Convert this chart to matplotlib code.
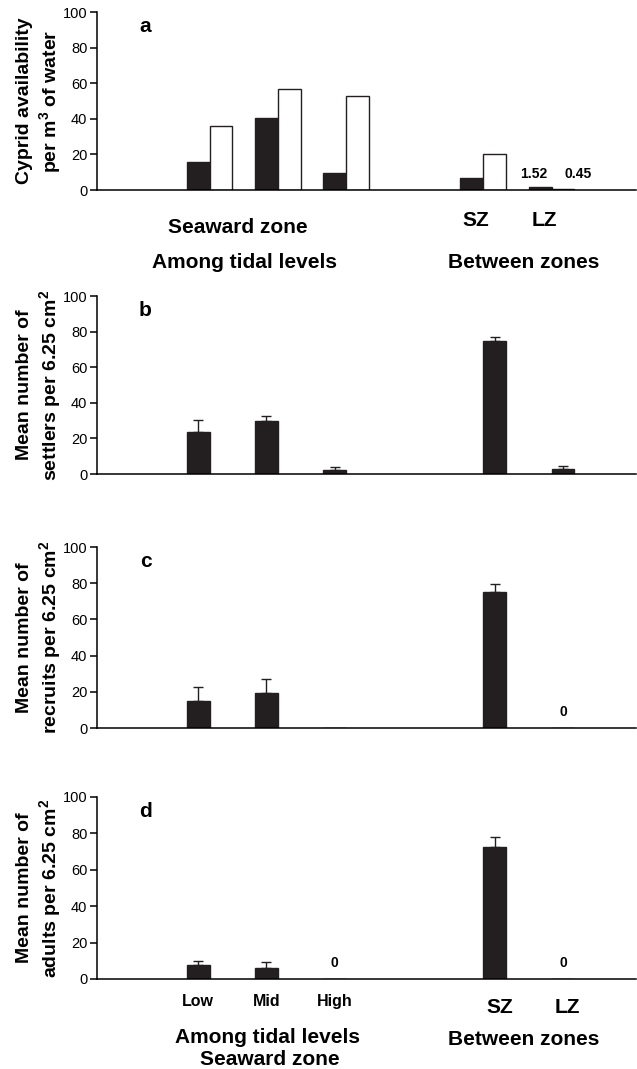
import numpy as np
import matplotlib
matplotlib.use("Agg")
import matplotlib.pyplot as plt
from matplotlib.transforms import blended_transform_factory

plt.rcParams['font.family'] = ['Liberation Sans', 'DejaVu Sans']
plt.rcParams['mathtext.fontset'] = 'custom'
plt.rcParams['mathtext.rm'] = 'Liberation Sans:bold'
plt.rcParams['mathtext.bf'] = 'Liberation Sans:bold'
plt.rcParams['mathtext.default'] = 'bf'

# categories
tidal_levels = ["Low", "Mid", "High"]
zones = ["SZ", "LZ"]

# panel a: cyprid availability (black / white bars)
cyprid_black = [15.5, 40.5, 9.6, 6.5, 1.52]
cyprid_white = [36.0, 57.0, 53.0, 20.0, 0.45]

# panels b-d: means and upper error
settlers = [23.8, 30.0, 2.5, 75.0, 2.8]
settlers_err = [6.4, 2.8, 1.6, 2.2, 1.7]
recruits = [15.1, 19.3, 0.0, 75.0, 0.0]
recruits_err = [7.3, 7.7, 0.0, 4.6, 0.0]
adults = [7.7, 6.0, 0.0, 72.8, 0.0]
adults_err = [2.0, 3.5, 0.0, 5.3, 0.0]
zero_marks = {"c": [False, False, False, False, True],
              "d": [False, False, True, False, True]}

W, H = 637, 1069
fig = plt.figure(figsize=(W / 100, H / 100), dpi=100)
INK = "#231f20"


def ax_at(top, bottom):
    return fig.add_axes([97 / W, 1 - bottom / H, (636 - 97) / W, (bottom - top) / H])


slot = [0, 1, 2, 4, 5]   # Low, Mid, High, (gap), SZ, LZ
bw = 0.335
xlim = (-1.31, 6.57)


def style(ax, letter):
    ax.set_xlim(*xlim)
    ax.set_ylim(0, 100)
    ax.set_yticks([0, 20, 40, 60, 80, 100])
    ax.set_xticks([])
    for s in ["top", "right"]:
        ax.spines[s].set_visible(False)
    ax.spines["left"].set_linewidth(1.1)
    ax.spines["bottom"].set_linewidth(1.1)
    ax.tick_params(axis="y", direction="out", length=5, width=1.1, labelsize=10.5, pad=2)
    ax.text(0.09, 0.92, letter, transform=ax.transAxes, fontsize=15, fontweight="bold",
            ha="center", va="center")


ylab_kw = dict(fontsize=14, fontweight="bold", linespacing=1.2, labelpad=0)
big = dict(ha="center", va="center", fontsize=15, fontweight="bold")

# ---- panel a ----
ax = ax_at(12, 190)
style(ax, "a")
ax.bar(slot, cyprid_black, width=bw, align="edge", color=INK, edgecolor=INK, lw=1)
ax.bar([s + bw for s in slot], cyprid_white, width=bw, align="edge", color="white",
       edgecolor=INK, lw=1)
ax.text(slot[4] + 0.07, 9, f"{cyprid_black[4]:.2f}", ha="center", va="center",
        fontsize=10, fontweight="bold")
ax.text(slot[4] + 0.72, 9, f"{cyprid_white[4]:.2f}", ha="center", va="center",
        fontsize=10, fontweight="bold")
ax.set_ylabel("Cyprid availability\nper m$^3$ of water", **ylab_kw)
tr = blended_transform_factory(ax.transData, ax.transAxes)
for i, z in enumerate(zones):
    ax.text(slot[3 + i] + bw - 0.1, -0.174, z, transform=tr, **big)
ax.text(0.745, -0.213, "Seaward zone", transform=tr, **big)
ax.text(0.85, -0.41, "Among tidal levels", transform=tr, **big)
ax.text(4.93, -0.41, "Between zones", transform=tr, **big)


# ---- panels b-d ----
def xpos(i):
    # tidal levels sit in the left slot, zones in the right slot
    return slot[i] + bw / 2 if i < 3 else slot[i] + bw * 1.5


def panel(top, bottom, letter, vals, errs, label, zeros=None):
    ax = ax_at(top, bottom)
    style(ax, letter)
    xs = [xpos(i) for i in range(5)]
    ax.bar(xs, vals, width=bw, color=INK, edgecolor=INK, lw=1)
    for x, v, e in zip(xs, vals, errs):
        if e > 0:
            ax.errorbar(x, v, yerr=[[0], [e]], fmt="none", ecolor=INK,
                        elinewidth=1, capsize=3.5, capthick=1)
    if zeros:
        for x, z in zip(xs, zeros):
            if z:
                ax.text(x, 9, "0", ha="center", va="center", fontsize=10, fontweight="bold")
    ax.set_ylabel(label, **ylab_kw)
    return ax, xs


panel(296, 474, "b", settlers, settlers_err, "Mean number of\nsettlers per 6.25 cm$^2$")
panel(547, 728, "c", recruits, recruits_err, "Mean number of\nrecruits per 6.25 cm$^2$",
      zero_marks["c"])
ax, xs = panel(797, 979, "d", adults, adults_err, "Mean number of\nadults per 6.25 cm$^2$",
               zero_marks["d"])
tr = blended_transform_factory(ax.transData, ax.transAxes)
for i, t in enumerate(tidal_levels):
    ax.text(xs[i], -0.121, t, transform=tr, ha="center", va="center", fontsize=11.5,
            fontweight="bold")
for i, z in enumerate(zones):
    ax.text(xs[3 + i] + 0.07, -0.154, z, transform=tr, **big)
ax.text(1.18, -0.324, "Among tidal levels", transform=tr, **big)
ax.text(1.21, -0.445, "Seaward zone", transform=tr, **big)
ax.text(4.93, -0.33, "Between zones", transform=tr, **big)

fig.savefig("out.png", dpi=100)
